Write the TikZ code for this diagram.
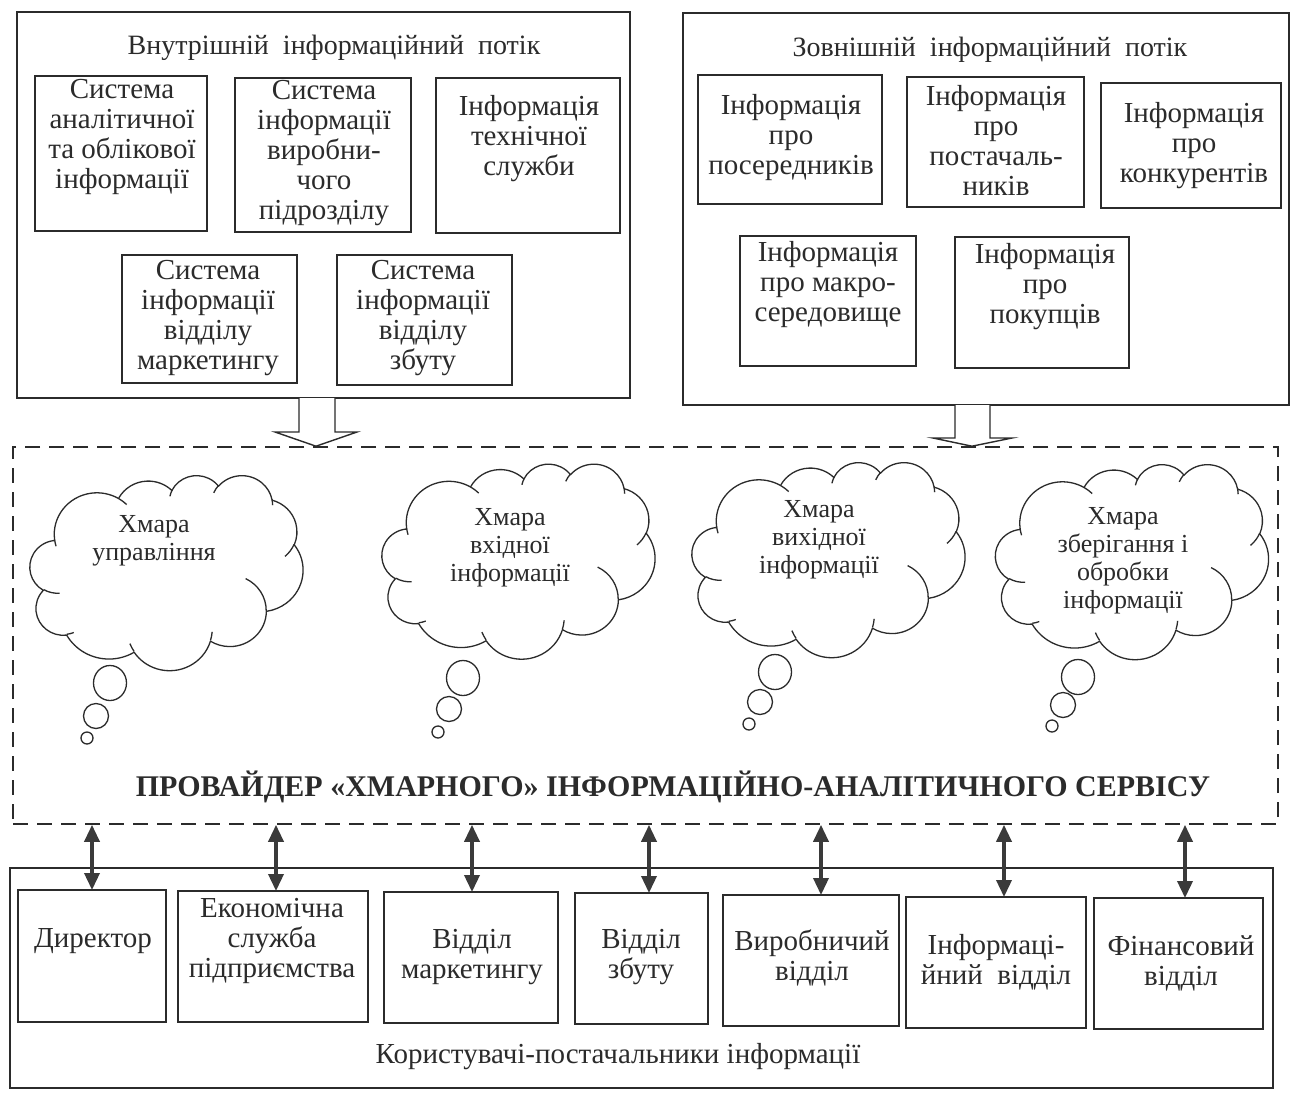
\documentclass[tikz,border=0pt]{standalone}
\usepackage{fontspec}
\setmainfont{Liberation Serif}
\usetikzlibrary{arrows.meta,calc}
\definecolor{ink}{HTML}{2B2B2B}
\definecolor{arrowgray}{HTML}{3A3A3A}
\newcommand{\boxfont}{\fontsize{29}{30}\selectfont}
\newcommand{\headfont}{\fontsize{28}{30}\selectfont}
\newcommand{\userfont}{\fontsize{29}{30}\selectfont}
\newcommand{\cloudfont}{\fontsize{26}{28}\selectfont}
\newcommand{\provfont}{\fontsize{30}{32}\selectfont\bfseries}
% a rectangle given by its corners (name, x1, y1, x2, y2)
\newcommand{\cell}[5]{%
  \node[blk, minimum width={#4-#2}, minimum height={#5-#3}] (#1) at ({(#2+#4)/2},{(#3+#5)/2}) {};}
% elliptic arc given by radii, visual start angle and sweep (degrees)
\newcommand{\cloudarc}[4]{arc[x radius=#1, y radius=#2,
  start angle={atan2((#1)*sin(#3),(#2)*cos(#3))},
  delta angle={Mod(atan2((#1)*sin((#3)+(#4)),(#2)*cos((#3)+(#4)))-atan2((#1)*sin(#3),(#2)*cos(#3)),360)}]}
% cloud outline with its inner strokes, filling the frame node #1 (432 x 432 units)
\newcommand{\cloudshape}[1]{%
  \begin{scope}[shift={(#1.north west)}, x=0.6319pt, y=-0.4514pt]
    \draw[cloudline] (39.00,143.70)
      \cloudarc{67.53}{91.90}{-190.48748}{123.78053}
      \cloudarc{53.33}{72.67}{-144.10238}{89.94523}
      \cloudarc{43.65}{59.45}{-145.80792}{99.72302}
      \cloudarc{48.57}{65.95}{-130.98607}{117.24173}
      \cloudarc{53.33}{72.73}{-78.70888}{109.02692}
      \cloudarc{67.75}{92.20}{-46.26725}{130.269}
      \cloudarc{57.85}{78.67}{0.62502}{114.03333}
      \cloudarc{67.52}{92.15}{22.4516}{115.17255}
      \cloudarc{77.20}{105.43}{66.24263}{75.71102}
      \cloudarc{43.60}{59.18}{-274.94208}{146.73557}
      \cloudarc{43.45}{59.45}{-246.8285}{152.51885}
      -- cycle;
    \draw[cloudline]
      (46.93,261.77) \cloudarc{43.45}{59.45}{86.742}{26.4295}
      (69.28,348.99) \cloudarc{43.60}{59.18}{73.61047}{11.44747}
      (164.78,390.90) \cloudarc{67.52}{92.15}{137.62415}{14.0811}
      (288.27,347.51) \cloudarc{67.52}{92.15}{6.45327}{15.99835}
      (341.29,229.54) \cloudarc{57.85}{78.67}{-70.29235}{70.91737}
      (417.98,153.54) \cloudarc{53.33}{72.73}{30.31803}{27.7515}
      (383.24,54.26) \cloudarc{48.57}{65.95}{-13.74433}{14.8589}
      (290.78,39.52) \cloudarc{48.57}{65.95}{-149.18145}{18.19537}
      (221.41,47.20) \cloudarc{43.65}{59.45}{-163.49427}{17.68635}
      (140.00,51.92) \cloudarc{67.53}{91.90}{-66.70695}{12.31935}
      (41.27,157.89) \cloudarc{67.53}{91.90}{157.65435}{11.85817};
  \end{scope}}
\begin{document}
\begin{tikzpicture}[x=1pt,y=-1pt,
  blk/.style={draw=ink, line width=1.6pt, inner sep=0, outer sep=0},
  txt/.style={text=ink, align=center, inner sep=0, font=\boxfont},
  head/.style={text=ink, inner sep=0, font=\headfont},
  ctxt/.style={text=ink, align=center, inner sep=0, font=\cloudfont},
  cloudframe/.style={minimum width=273pt, minimum height=195pt, inner sep=0, outer sep=0},
  cloudline/.style={draw=ink, line width=1.3pt, line join=round},
  bubble/.style={draw=ink, line width=1.3pt},
  hollow/.style={draw=ink, line width=1.4pt, fill=white},
  dashframe/.style={draw=ink, line width=1.6pt, dash pattern=on 15pt off 9pt, inner sep=0},
  dbl/.style={draw=arrowgray, line width=3.5pt,
    {Triangle[length=17pt,width=15pt]}-{Triangle[length=17pt,width=15pt]}}
]
\useasboundingbox (0,0) rectangle (1298,1093);
\fill[white] (0,0) rectangle (1298,1093);

% ---------- internal information flow ----------
\cell{inner}{17}{12}{630}{398}
\node[head] (innert) at (334,48) {Внутрішній\ \ інформаційний\ \ потік};
\cell{a1}{35}{76}{207}{231}
\node[txt] (a1t) at (122,137) {Система\\аналітичної\\та облікової\\інформації};
\cell{a2}{235}{78}{411}{232}
\node[txt] (a2t) at (324,153) {Система\\інформації\\виробни-\\чого\\підрозділу};
\cell{a3}{436}{78}{620}{233}
\node[txt] (a3t) at (529,139) {Інформація\\технічної\\служби};
\cell{a4}{122}{255}{297}{383}
\node[txt] (a4t) at (208,318) {Система\\інформації\\відділу\\маркетингу};
\cell{a5}{337}{255}{512}{385}
\node[txt] (a5t) at (423,318) {Система\\інформації\\відділу\\збуту};

% ---------- external information flow ----------
\cell{outer}{683}{13}{1289}{405}
\node[head] (outert) at (990,50) {Зовнішній\ \ інформаційний\ \ потік};
\cell{p1}{698}{75}{882}{204}
\node[txt] (p1t) at (791,138) {Інформація\\про\\посередників};
\cell{p2}{907}{77}{1084}{207}
\node[txt] (p2t) at (996,140) {Інформація\\про\\постачаль-\\ників};
\cell{p3}{1101}{83}{1281}{208}
\node[txt] (p3t) at (1194,146) {Інформація\\про\\конкурентів};
\cell{p4}{740}{236}{916}{366}
\node[txt] (p4t) at (828,285) {Інформація\\про макро-\\середовище};
\cell{p5}{955}{237}{1129}{368}
\node[txt] (p5t) at (1045,287) {Інформація\\про\\покупців};

% ---------- cloud service provider ----------
\node[dashframe, minimum width=1265pt, minimum height=377pt] (prov) at (645.5,635.5) {};

% hollow arrows into the provider
\draw[hollow] (299,0 |- inner.south) -- (299,432) -- (275,432) -- (316,0 |- prov.north)
  -- (357,432) -- (335,432) -- (335,0 |- inner.south);
\draw[hollow] (955,0 |- outer.south) -- (955,438) -- (933,438) -- (972,0 |- prov.north)
  -- (1012,438) -- (990,438) -- (990,0 |- outer.south);

% clouds with thought bubbles
\node[cloudframe] (c1) at (166.5,572.5) {};
\cloudshape{c1}
\node[ctxt] (c1t) at (154,541) {Хмара\\управління};
\draw[bubble] (110,683) ellipse [x radius=16.5, y radius=17.5];
\draw[bubble] (96,716) circle [radius=12.5];
\draw[bubble] (87,738) circle [radius=6];

\node[cloudframe] (c2) at (518.5,561) {};
\cloudshape{c2}
\node[ctxt] (c2t) at (510,548) {Хмара\\вхідної\\інформації};
\draw[bubble] (463,678) ellipse [x radius=16.5, y radius=17.5];
\draw[bubble] (449,709) circle [radius=12.5];
\draw[bubble] (438,732) circle [radius=6];

\node[cloudframe] (c3) at (828.5,559.5) {};
\cloudshape{c3}
\node[ctxt] (c3t) at (819,540) {Хмара\\вихідної\\інформації};
\draw[bubble] (775,672) ellipse [x radius=16.5, y radius=17.5];
\draw[bubble] (760,702) circle [radius=12.5];
\draw[bubble] (749,724) circle [radius=6];

\node[cloudframe] (c4) at (1132,561.5) {};
\cloudshape{c4}
\node[ctxt] (c4t) at (1123,560.5) {Хмара\\зберігання і\\обробки\\інформації};
\draw[bubble] (1078,677) ellipse [x radius=16.5, y radius=17.5];
\draw[bubble] (1063,705) circle [radius=12.5];
\draw[bubble] (1052,726) circle [radius=6];

\node[text=ink, inner sep=0, font=\provfont] (provt) at (673,787)
  {ПРОВАЙДЕР «ХМАРНОГО» ІНФОРМАЦІЙНО-АНАЛІТИЧНОГО СЕРВІСУ};

% ---------- users and suppliers of information ----------
\cell{users}{10}{868}{1273}{1088}
\node[text=ink, inner sep=0, font=\userfont] (userst) at (618,1057) {Користувачі-постачальники інформації};
\cell{b1}{18}{890}{166}{1022}
\node[txt] (b1t) at (93,941) {Директор};
\cell{b2}{178}{891}{368}{1022}
\node[txt] (b2t) at (272,941) {Економічна\\служба\\підприємства};
\cell{b3}{384}{892}{558}{1023}
\node[txt] (b3t) at (472,957) {Відділ\\маркетингу};
\cell{b4}{575}{893}{708}{1024}
\node[txt] (b4t) at (641,957.5) {Відділ\\збуту};
\cell{b5}{723}{895}{899}{1026}
\node[txt] (b5t) at (812,958) {Виробничий\\відділ};
\cell{b6}{906}{897}{1086}{1028}
\node[txt] (b6t) at (996,962) {Інформаці-\\йний\ \ відділ};
\cell{b7}{1094}{898}{1263}{1029}
\node[txt] (b7t) at (1181,963) {Фінансовий\\відділ};

% two-way links between the provider and each user
\draw[dbl] (92,0 |- prov.south) -- (92,0 |- b1.north);
\draw[dbl] (276,0 |- prov.south) -- (276,0 |- b2.north);
\draw[dbl] (472,0 |- prov.south) -- (472,0 |- b3.north);
\draw[dbl] (649,0 |- prov.south) -- (649,0 |- b4.north);
\draw[dbl] (821,0 |- prov.south) -- (821,0 |- b5.north);
\draw[dbl] (1004,0 |- prov.south) -- (1004,0 |- b6.north);
\draw[dbl] (1185,0 |- prov.south) -- (1185,0 |- b7.north);
\end{tikzpicture}
\end{document}
